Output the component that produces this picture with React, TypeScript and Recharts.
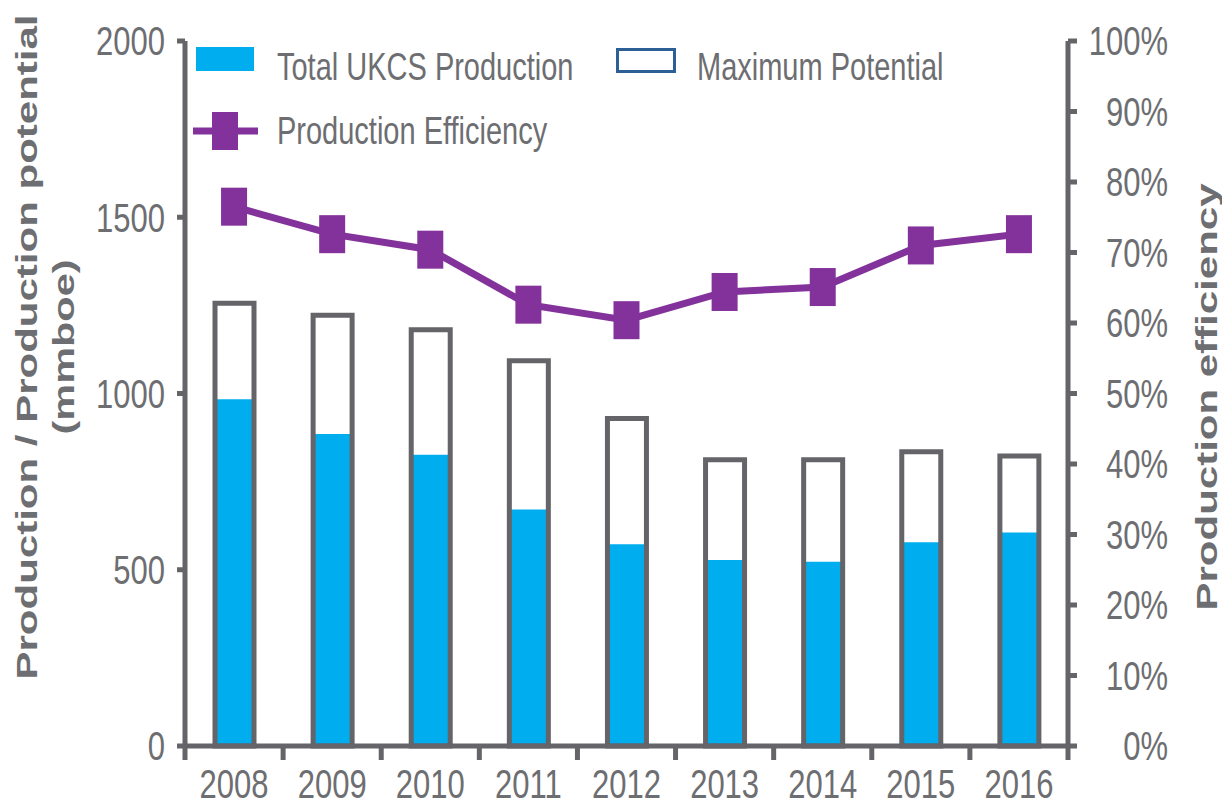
import React from 'react';
import { ComposedChart, Bar, Line, XAxis, YAxis, Legend } from 'recharts';

const years = ['2008', '2009', '2010', '2011', '2012', '2013', '2014', '2015', '2016'];
const production = [984, 885, 826, 671, 572, 528, 523, 578, 606];
const maxPotential = [1256, 1222, 1181, 1093, 929, 812, 812, 835, 823];
const efficiency = [76.5, 72.6, 70.4, 62.6, 60.4, 64.4, 65.1, 71.0, 72.6];
const leftTicks = [0, 500, 1000, 1500, 2000];
const rightTicks = [0, 10, 20, 30, 40, 50, 60, 70, 80, 90, 100];
const productionName = 'Total UKCS Production';
const potentialName = 'Maximum Potential';
const efficiencyName = 'Production Efficiency';
const leftTitle = 'Production / Production potential';
const leftSubtitle = '(mmboe)';
const rightTitle = 'Production efficiency';

const data = years.map((year, i) => ({
  year,
  production: production[i],
  potential: maxPotential[i],
  efficiency: efficiency[i],
}));

const AXIS = '#646469';
const TEXT = '#6d6e71';
const BLUE = '#00aeef';
const PURPLE = '#84329b';
const OUTLINE_BLUE = '#2b5f95';
const FONT = "'Liberation Sans', Arial, Helvetica, sans-serif";
const TICK_SIZE = 31;
const SY = 1.3;

const SText = ({ x, y, anchor = 'start', size = TICK_SIZE, sy = SY, children }: any) => (
  <g transform={`translate(${x},${y}) scale(1,${sy})`}>
    <text x={0} y={0} textAnchor={anchor} fontSize={size} fontFamily={FONT} fill={TEXT}>
      {children}
    </text>
  </g>
);

const capHalf = (0.716 * TICK_SIZE * SY) / 2;

const LeftTick = (props: any) => {
  const { x, y, payload } = props;
  return <SText x={x} y={y + capHalf} anchor="end">{String(payload.value)}</SText>;
};

const RightTick = (props: any) => {
  const { x, y, payload } = props;
  return <SText x={x + 91} y={y + capHalf} anchor="end">{`${payload.value}%`}</SText>;
};

const XTick = (props: any) => {
  const { x, y, payload, index } = props;
  const half = payload && typeof payload.offset === 'number' && payload.offset > 0 ? payload.offset : 49;
  return (
    <g>
      <line x1={x - half} x2={x - half} y1={y} y2={y + 14} stroke={AXIS} strokeWidth={5} />
      {index === years.length - 1 && (
        <line x1={x + half} x2={x + half} y1={y} y2={y + 14} stroke={AXIS} strokeWidth={5} />
      )}
      <SText x={x} y={y + 52} anchor="middle">{String(payload.value)}</SText>
    </g>
  );
};

const SquareDot = (props: any) => {
  const { cx, cy, index } = props;
  if (cx == null || cy == null) return <g key={index} />;
  return <rect key={index} x={cx - 13} y={cy - 19} width={26} height={38} fill={PURPLE} />;
};

const titleStyle = {
  fontFamily: FONT,
  fontWeight: 700,
  fontSize: 30,
  fill: TEXT,
};

const LeftTitle = () => (
  <g>
    <text
      transform="translate(37,347) rotate(-90)"
      textAnchor="middle"
      textLength={665}
      lengthAdjust="spacingAndGlyphs"
      style={titleStyle}
    >
      {leftTitle}
    </text>
    <text
      transform="translate(74,347) rotate(-90)"
      textAnchor="middle"
      textLength={175}
      lengthAdjust="spacingAndGlyphs"
      style={titleStyle}
    >
      {leftSubtitle}
    </text>
  </g>
);

const RightTitle = () => (
  <text
    transform="translate(1217,397) rotate(-90)"
    textAnchor="middle"
    textLength={427}
    lengthAdjust="spacingAndGlyphs"
    style={titleStyle}
  >
    {rightTitle}
  </text>
);

const LegendContent = () => (
  <svg width={1000} height={170} style={{ display: 'block' }}>
    <rect x={196} y={47} width={58} height={24} fill={BLUE} />
    <SText x={277} y={80} size={29} sy={1.35}>{productionName}</SText>
    <rect x={617.5} y={49.5} width={57} height={22} fill="#fff" stroke={OUTLINE_BLUE} strokeWidth={3} />
    <SText x={697} y={80} size={29} sy={1.35}>{potentialName}</SText>
    <line x1={193} x2={258} y1={131} y2={131} stroke={PURPLE} strokeWidth={7} />
    <rect x={212} y={112} width={26} height={38} fill={PURPLE} />
    <SText x={277} y={144} size={29} sy={1.35}>{efficiencyName}</SText>
  </svg>
);

export default function App() {
  return (
    <div style={{ position: 'absolute', left: 0, top: 0, width: 1222, height: 802, background: '#fff' }}>
      <ComposedChart
        width={1222}
        height={802}
        data={data}
        margin={{ top: 41, right: 0, bottom: 0, left: 0 }}
        barGap={0}
      >
        <XAxis
          xAxisId="main"
          dataKey="year"
          height={56}
          axisLine={{ stroke: AXIS, strokeWidth: 5 }}
          tickLine={false}
          tickSize={0}
          tickMargin={0}
          tick={<XTick />}
          interval={0}
        />
        <XAxis xAxisId="over" dataKey="year" hide />
        <YAxis
          yAxisId="left"
          orientation="left"
          width={185}
          domain={[0, 2000]}
          ticks={leftTicks}
          axisLine={{ stroke: AXIS, strokeWidth: 5 }}
          tickLine={{ stroke: AXIS, strokeWidth: 5 }}
          tickSize={8}
          tickMargin={12}
          tick={<LeftTick />}
          interval={0}
          label={{ content: () => <LeftTitle /> }}
        />
        <YAxis
          yAxisId="right"
          orientation="right"
          width={154}
          domain={[0, 100]}
          ticks={rightTicks}
          axisLine={{ stroke: AXIS, strokeWidth: 5 }}
          tickLine={{ stroke: AXIS, strokeWidth: 5 }}
          tickSize={9}
          tickMargin={0}
          tick={<RightTick />}
          interval={0}
          label={{ content: () => <RightTitle /> }}
        />
        <Legend
          layout="vertical"
          align="center"
          verticalAlign="middle"
          wrapperStyle={{ position: 'absolute', left: 0, top: 0, width: 1000, height: 170 }}
          content={() => <LegendContent />}
        />
        <Bar
          xAxisId="main"
          yAxisId="left"
          dataKey="production"
          name={productionName}
          fill={BLUE}
          barSize={39}
          isAnimationActive={false}
        />
        <Bar
          xAxisId="over"
          yAxisId="left"
          dataKey="potential"
          name={potentialName}
          fill="none"
          stroke={AXIS}
          strokeWidth={5}
          barSize={39}
          isAnimationActive={false}
        />
        <Line
          xAxisId="main"
          yAxisId="right"
          dataKey="efficiency"
          name={efficiencyName}
          stroke={PURPLE}
          strokeWidth={7}
          dot={(p: any) => <SquareDot key={p.index} {...p} />}
          activeDot={false}
          isAnimationActive={false}
        />
      </ComposedChart>
    </div>
  );
}
